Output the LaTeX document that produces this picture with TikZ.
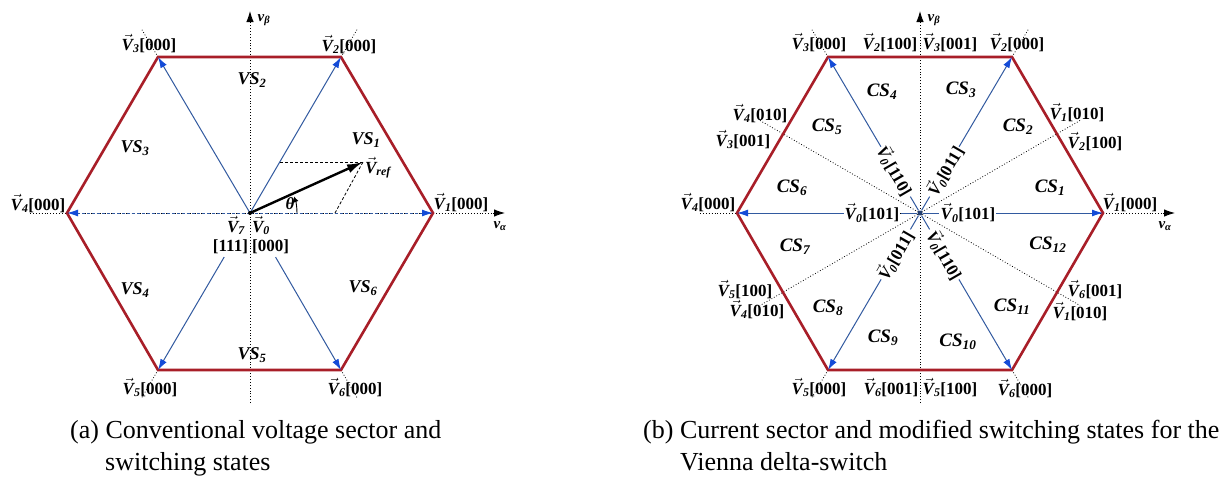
\documentclass[tikz,border=0pt]{standalone}
\usepackage{fontspec}
\setmainfont{Liberation Serif}
\usetikzlibrary{arrows.meta,calc}
\definecolor{hexred}{RGB}{168,30,40}
\definecolor{vblue}{RGB}{50,90,160}
\definecolor{vhead}{RGB}{20,75,215}
\newcommand\Vvec{$\vec{\mbox{\bfseries\itshape V}}$}
\newcommand\Vv[2]{\Vvec\textsubscript{\bfseries\itshape #1}\textbf{[#2]}}
\newcommand\Vs[1]{\Vvec\textsubscript{\bfseries\itshape #1}}
\tikzset{
  hex/.style={draw=hexred, line width=2.6pt, line join=miter},
  barrow/.style={draw=vblue, line width=1pt, -{Latex[length=11pt,width=7pt,color=vhead]}},
  bseg/.style={draw=vblue, line width=1pt},
  axisline/.style={line width=0.9pt, dotted},
  axhead/.style={line width=0.9pt, solid, -{Latex[length=11pt,width=7.5pt]}},
  extline/.style={line width=0.8pt, dotted},
  guide/.style={line width=0.8pt, densely dashed},
  lab/.style={font=\fontsize{17}{20}\selectfont, inner sep=0pt, anchor=base},
  sect/.style={font=\fontsize{18}{20}\selectfont\bfseries\itshape, inner sep=0pt},
  csect/.style={font=\fontsize{19}{20}\selectfont\bfseries\itshape, inner sep=0pt},
  axlab/.style={font=\fontsize{15}{18}\selectfont, inner sep=0pt},
  captext/.style={font=\fontsize{26}{30}\selectfont, inner sep=0pt, anchor=base west},
}
\begin{document}
\begin{tikzpicture}[x=1pt,y=-1pt]
\useasboundingbox[fill=white] (0,0) rectangle (1222,479);

%================ Panel (a) =================
\coordinate (aO) at (250,213);
\coordinate (a1) at (433,213);
\coordinate (a2) at (341,57);
\coordinate (a3) at (158,57);
\coordinate (a4) at (67,213);
\coordinate (a5) at (158,370);
\coordinate (a6) at (341,370);
\coordinate (aXl) at (30,213);
\coordinate (aXr) at (505,213);
\coordinate (aYb) at (250,403);
\coordinate (aYt) at (250,11);

\draw[axisline] (aXl) -- ($(aXr)!8pt!(aXl)$);
\draw[axhead] ($(aXr)!12pt!(aXl)$) -- (aXr);
\draw[axisline] (aYb) -- ($(aYt)!8pt!(aYb)$);
\draw[axhead] ($(aYt)!12pt!(aYb)$) -- (aYt);
\foreach \v in {a2,a3,a5,a6}{\draw[extline] (\v) -- ($(\v)!-32pt!(aO)$);}

\draw[hex] (a1) -- (a2) -- (a3) -- (a4) -- (a5) -- (a6) -- cycle;

\draw[barrow] (aO) -- (a2);
\draw[barrow] (aO) -- (a3);
\draw[barrow, densely dashed] (aO) -- (a1);
\draw[barrow, densely dashed] (aO) -- (a4);
\draw[barrow] ($(aO)!51pt!(a5)$) -- (a5);
\draw[barrow] ($(aO)!51pt!(a6)$) -- (a6);

\coordinate (aR) at (363,162);
\coordinate (aP) at (280,162);
\coordinate (aQ) at (335,213);
\draw[guide] (aP) -- (aR);
\draw[guide] (aQ) -- (aR);
\draw[line width=2.4pt, -{Latex[length=16pt,width=9pt]}] (aO) -- (aR);
\draw[line width=0.9pt, -{Latex[length=6pt,width=5pt]}] ($(aO)+(47,0)$) arc[start angle=0, end angle=21, radius=47pt];
\fill (aO) circle (2pt);

\node[lab] (aL3) at (149,50) {\Vv{3}{000}};
\node[lab] (aL2) at (349,51) {\Vv{2}{000}};
\node[lab] (aL1) at (461,209) {\Vv{1}{000}};
\node[lab] (aL4) at (38,210) {\Vv{4}{000}};
\node[lab] (aL5) at (150,394) {\Vv{5}{000}};
\node[lab] (aL6) at (355,394) {\Vv{6}{000}};
\node[lab] (aL7) at (236,232) {\Vs{7}};
\node[lab] (aL0) at (261,232) {\Vs{0}};
\node[lab] (aLz) at (251,251) {\textbf{[111] [000]}};
\node[lab] (aLr) at (378,173) {\Vs{ref}};
\node[lab] (aTh) at (290,209) {\textbf{\textit{θ}}};
\node[axlab] (aVb) at (264,20) {{\bfseries\itshape v}\textsubscript{\bfseries\itshape β}};
\node[axlab] (aVa) at (500,226) {{\bfseries\itshape v}\textsubscript{\bfseries\itshape α}};

\node[sect] (VS1) at (366,140) {VS\textsubscript{1}};
\node[sect] (VS2) at (252,80) {VS\textsubscript{2}};
\node[sect] (VS3) at (135,148) {VS\textsubscript{3}};
\node[sect] (VS4) at (135,290) {VS\textsubscript{4}};
\node[sect] (VS5) at (252,355) {VS\textsubscript{5}};
\node[sect] (VS6) at (363,288) {VS\textsubscript{6}};

%================ Panel (b) =================
\coordinate (bO) at (920,213);
\coordinate (b1) at (1103,213);
\coordinate (b2) at (1012,57);
\coordinate (b3) at (828,57);
\coordinate (b4) at (737,213);
\coordinate (b5) at (828,370);
\coordinate (b6) at (1012,370);
\coordinate (bXl) at (700,213);
\coordinate (bXr) at (1175,213);
\coordinate (bYb) at (920,403);
\coordinate (bYt) at (920,11);
\coordinate (bD30) at (1080,120.5);
\coordinate (bD150) at (760,120.5);
\coordinate (bD210) at (760,305.5);
\coordinate (bD330) at (1080,305.5);

\draw[axisline] (bXl) -- ($(bXr)!8pt!(bXl)$);
\draw[axhead] ($(bXr)!12pt!(bXl)$) -- (bXr);
\draw[axisline] (bYb) -- ($(bYt)!8pt!(bYb)$);
\draw[axhead] ($(bYt)!12pt!(bYb)$) -- (bYt);
\draw[extline] (bD30) -- (bD210);
\draw[extline] (bD150) -- (bD330);
\foreach \v in {b2,b3,b5,b6}{\draw[extline] (\v) -- ($(\v)!-32pt!(bO)$);}

\draw[hex] (b1) -- (b2) -- (b3) -- (b4) -- (b5) -- (b6) -- cycle;

\foreach \v in {b1,b2,b3,b4,b5,b6}{
  \draw[barrow] ($(bO)!76pt!(\v)$) -- (\v);
  \draw[bseg] ($(bO)!3pt!(\v)$) -- ($(bO)!19pt!(\v)$);
}
\fill[vblue!70!black] (bO) circle (2.5pt);

\node[lab, anchor=center, fill=white, inner sep=1pt] (bL4c) at ($(bO)!48pt!(b4)$) {\Vv{0}{101}};
\node[lab, anchor=center, fill=white, inner sep=1pt] (bL1c) at ($(bO)!48pt!(b1)$) {\Vv{0}{101}};
\node[lab, anchor=center, fill=white, inner sep=1pt, rotate=-60] (bL3c) at ($(bO)!49pt!(b3)$) {\Vv{0}{110}};
\node[lab, anchor=center, fill=white, inner sep=1pt, rotate=60] (bL2c) at ($(bO)!49pt!(b2)$) {\Vv{0}{011}};
\node[lab, anchor=center, fill=white, inner sep=1pt, rotate=60] (bL5c) at ($(bO)!49pt!(b5)$) {\Vv{0}{011}};
\node[lab, anchor=center, fill=white, inner sep=1pt, rotate=-60] (bL6c) at ($(bO)!49pt!(b6)$) {\Vv{0}{110}};

\node[lab] (bT1) at (819,49) {\Vv{3}{000}};
\node[lab] (bT2) at (890,49) {\Vv{2}{100}};
\node[lab] (bT3) at (950,49) {\Vv{3}{001}};
\node[lab] (bT4) at (1017,49) {\Vv{2}{000}};
\node[lab] (bR1) at (1077,119) {\Vv{1}{010}};
\node[lab] (bR2) at (1095,148) {\Vv{2}{100}};
\node[lab] (bR3) at (1130,209) {\Vv{1}{000}};
\node[lab] (bR4) at (1095,296) {\Vv{6}{001}};
\node[lab] (bR5) at (1080,318) {\Vv{1}{010}};
\node[lab] (bL1) at (760,120) {\Vv{4}{010}};
\node[lab] (bL2) at (743,146) {\Vv{3}{001}};
\node[lab] (bL3) at (708,209) {\Vv{4}{000}};
\node[lab] (bL5) at (745,296) {\Vv{5}{100}};
\node[lab] (bL6) at (757,316) {\Vv{4}{010}};
\node[lab] (bB1) at (819,394) {\Vv{5}{000}};
\node[lab] (bB2) at (891,394) {\Vv{6}{001}};
\node[lab] (bB3) at (950,394) {\Vv{5}{100}};
\node[lab] (bB4) at (1025,395) {\Vv{6}{000}};
\node[axlab] (bVb) at (934,20) {{\bfseries\itshape v}\textsubscript{\bfseries\itshape β}};
\node[axlab] (bVa) at (1165,226) {{\bfseries\itshape v}\textsubscript{\bfseries\itshape α}};

\node[csect] (CS1) at (1050,188) {CS\textsubscript{1}};
\node[csect] (CS2) at (1018,127) {CS\textsubscript{2}};
\node[csect] (CS3) at (961,90) {CS\textsubscript{3}};
\node[csect] (CS4) at (882,92) {CS\textsubscript{4}};
\node[csect] (CS5) at (827,127) {CS\textsubscript{5}};
\node[csect] (CS6) at (792,188) {CS\textsubscript{6}};
\node[csect] (CS7) at (795,247) {CS\textsubscript{7}};
\node[csect] (CS8) at (828,308) {CS\textsubscript{8}};
\node[csect] (CS9) at (883,338) {CS\textsubscript{9}};
\node[csect] (CS10) at (958,342) {CS\textsubscript{10}};
\node[csect] (CS11) at (1012,307) {CS\textsubscript{11}};
\node[csect] (CS12) at (1048,245) {CS\textsubscript{12}};

%================ Captions =================
\node[captext] (capa1) at (70,438) {(a) Conventional voltage sector and};
\node[captext] (capa2) at (105,470) {switching states};
\node[captext] (capb1) at (643,438) {(b) Current sector and modified switching states for the};
\node[captext] (capb2) at (680,470) {Vienna delta-switch};
\end{tikzpicture}
\end{document}
